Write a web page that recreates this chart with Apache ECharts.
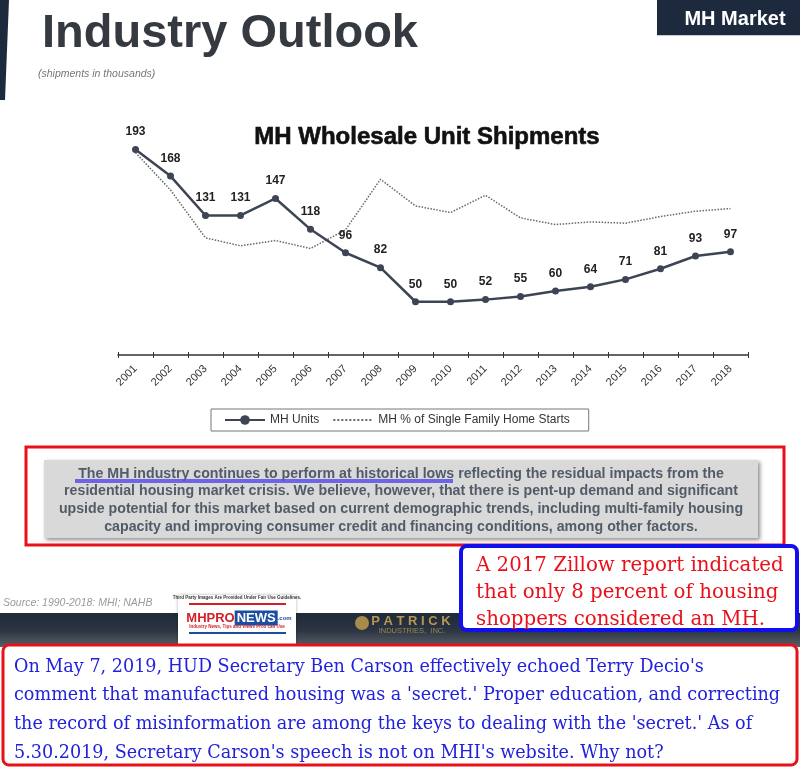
<!DOCTYPE html>
<html><head><meta charset="utf-8">
<script src="https://cdn.jsdelivr.net/npm/echarts@6/dist/echarts.min.js"></script>
<style>html,body{margin:0;padding:0;background:#fff}#c{width:800px;height:768px}</style>
</head><body><div id="c"></div>
<script>
const years = ['2001','2002','2003','2004','2005','2006','2007','2008','2009','2010','2011','2012','2013','2014','2015','2016','2017','2018'];
const mhUnits = [193,168,131,131,147,118,96,82,50,50,52,55,60,64,71,81,93,97];
const mhShareOfSF = [15.2,12.4,8.8,8.2,8.6,8.0,9.4,13.2,11.2,10.7,12.0,10.3,9.8,10.0,9.9,10.4,10.8,11.0];
const pageTitle = 'Industry Outlook';
const chartTitle = 'MH Wholesale Unit Shipments';
const paragraphLines = [
  'The MH industry continues to perform at historical lows reflecting the residual impacts from the',
  'residential housing market crisis. We believe, however, that there is pent-up demand and significant',
  'upside potential for this market based on current demographic trends, including multi-family housing',
  'capacity and improving consumer credit and financing conditions, among other factors.'
];
const zillowLines = [
  'A 2017 Zillow report indicated',
  'that only 8 percent of housing',
  'shoppers considered an MH.'
];
const carsonLines = [
  "On May 7, 2019, HUD Secretary Ben Carson effectively echoed Terry Decio's",
  "comment that manufactured housing was a 'secret.' Proper education, and correcting",
  "the record of misinformation are among the keys to dealing with the 'secret.' As of",
  "5.30.2019, Secretary Carson's speech is not on MHI's website. Why not?"
];

const SANS = '"Liberation Sans", Arial, sans-serif';
const chart = echarts.init(document.getElementById('c'));
chart.setOption({
  animation: false,
  backgroundColor: '#ffffff',
  title: {
    text: chartTitle, left: 422, top: 120, textAlign: 'center',
    textStyle: { fontFamily: SANS, fontSize: 24, fontWeight: 'bold', color: '#111', textBorderColor: '#111', textBorderWidth: 0.6 }
  },
  legend: {
    left: 211, top: 409, padding: [5, 19, 5, 13], itemGap: 13,
    itemWidth: 40, itemHeight: 12,
    borderColor: '#777', borderWidth: 1,
    textStyle: { fontFamily: SANS, fontSize: 12, color: '#333' },
    data: [
      { name: 'MH Units' },
      { name: 'MH % of Single Family Home Starts', itemStyle: { color: 'rgba(0,0,0,0)', borderWidth: 0 } }
    ]
  },
  grid: { left: 118, right: 52, top: 142, height: 213 },
  xAxis: [{
    type: 'category', data: years, boundaryGap: true,
    axisLine: { lineStyle: { color: '#333', width: 1.5 } },
    axisTick: { show: true, interval: 0, length: 3, lineStyle: { color: '#333' } },
    axisLabel: { interval: 0, rotate: 45, fontFamily: SANS, fontSize: 11, color: '#333', margin: 12 }
  }, {
    type: 'category', data: years, boundaryGap: true, position: 'bottom',
    axisLine: { show: false },
    axisTick: { show: true, inside: true, interval: 0, length: 3, lineStyle: { color: '#333' } },
    axisLabel: { show: false }
  }],
  yAxis: [
    { type: 'value', min: 0, max: 200, show: false, splitLine: { show: false } },
    { type: 'value', min: 0, max: 16, show: false, splitLine: { show: false } }
  ],
  series: [{
    name: 'MH % of Single Family Home Starts', type: 'line', yAxisIndex: 1,
    data: mhShareOfSF, symbol: 'none', showSymbol: false,
    lineStyle: { type: 'dotted', color: '#666', width: 1.5 },
    itemStyle: { color: '#666' }
  }, {
    name: 'MH Units', type: 'line', yAxisIndex: 0, z: 3,
    data: mhUnits, symbol: 'circle', symbolSize: 7,
    lineStyle: { color: '#3d4554', width: 2.5 },
    itemStyle: { color: '#3d4554' },
    label: { show: true, position: 'top', distance: 8, fontFamily: SANS, fontSize: 12, fontWeight: 'bold', color: '#222' }
  }],
  graphic: [
    { type: 'polygon', shape: { points: [[0,0],[9,0],[5,100],[0,100]] }, style: { fill: '#1d2a3e' } },
    { type: 'rect', shape: { x: 657, y: 0, width: 143, height: 35 }, style: { fill: '#1d2a3e' } },
    { type: 'line', shape: { x1: 657, y1: 35.5, x2: 800, y2: 35.5 }, style: { stroke: '#c8ccd2', lineWidth: 1 } },
    { type: 'text', x: 735, y: 19, style: { text: 'MH Market', font: 'bold 20px "Liberation Sans", Arial', fill: '#ffffff', textAlign: 'center', textVerticalAlign: 'middle' } },
    { type: 'text', x: 42, y: 34, style: { text: pageTitle, font: 'bold 47px "Liberation Sans", Arial', fill: '#343a40', textAlign: 'left', textVerticalAlign: 'middle' } },
    { type: 'text', x: 38, y: 74, style: { text: '(shipments in thousands)', font: 'italic 10.5px "Liberation Sans", Arial', fill: '#777', textVerticalAlign: 'middle' } },
    { type: 'rect', shape: { x: 26, y: 447, width: 758, height: 98 }, style: { fill: 'none', stroke: '#e8111a', lineWidth: 3 } },
    { type: 'rect', shape: { x: 44, y: 460, width: 714, height: 78 }, style: { fill: '#d9d9d9', shadowBlur: 4, shadowOffsetX: 2, shadowOffsetY: 2, shadowColor: 'rgba(0,0,0,0.45)' } },
    { type: 'text', x: 401, y: 465, style: { text: paragraphLines.join('\n'), font: 'bold 14.2px "Liberation Sans", Arial', lineHeight: 17.7, fill: '#525c68', textAlign: 'center', textVerticalAlign: 'top' } },
    { type: 'line', shape: { x1: 75, y1: 481, x2: 453, y2: 481 }, style: { stroke: '#5b4fe8', lineWidth: 4, opacity: 0.85 } },
    { type: 'text', x: 3, y: 603, style: { text: 'Source: 1990-2018: MHI; NAHB', font: 'italic 10.5px "Liberation Sans", Arial', fill: '#999', textVerticalAlign: 'middle' } },
    { type: 'rect', shape: { x: 0, y: 613, width: 800, height: 34 }, style: { fill: new echarts.graphic.LinearGradient(0,0,0,1,[{offset:0,color:'#1f2a3a'},{offset:0.5,color:'#2a3442'},{offset:1,color:'#5a5f66'}]) } },
    { type: 'rect', shape: { x: 178, y: 595, width: 118, height: 51 }, style: { fill: '#ffffff', shadowBlur: 3, shadowColor: 'rgba(0,0,0,0.3)' } },
    { type: 'text', x: 237, y: 598, style: { text: 'Third Party Images Are Provided Under Fair Use Guidelines.', font: 'bold 4.5px "Liberation Sans", Arial', fill: '#333', textAlign: 'center', textVerticalAlign: 'middle' } },
    { type: 'line', shape: { x1: 189, y1: 604, x2: 286, y2: 604 }, style: { stroke: '#d32027', lineWidth: 2 } },
    { type: 'text', x: 239, y: 618, style: { text: '{r|MHPRO}{b|NEWS}{s|.com}', textAlign: 'center', textVerticalAlign: 'middle',
        rich: { r: { font: 'bold 13px "Liberation Sans", Arial', fill: '#d32027' }, b: { font: 'bold 13px "Liberation Sans", Arial', fill: '#ffffff', backgroundColor: '#1b4ea0', padding: [1, 2] }, s: { font: 'bold 6px "Liberation Sans", Arial', fill: '#1b4ea0' } } } },
    { type: 'text', x: 237, y: 627, style: { text: 'Industry News, Tips and Views Pros can Use', font: 'bold 4.5px "Liberation Sans", Arial', fill: '#d32027', textAlign: 'center', textVerticalAlign: 'middle' } },
    { type: 'line', shape: { x1: 189, y1: 633, x2: 286, y2: 633 }, style: { stroke: '#1b4ea0', lineWidth: 2 } },
    { type: 'circle', shape: { cx: 362, cy: 623, r: 7 }, style: { fill: '#a88a4a' } },
    { type: 'text', x: 411, y: 621, style: { text: 'P A T R I C K', font: 'bold 13px "Liberation Sans", Arial', fill: '#b8964f', textAlign: 'center', textVerticalAlign: 'middle' } },
    { type: 'text', x: 412, y: 631, style: { text: 'INDUSTRIES,  INC.', font: '7.5px "Liberation Sans", Arial', fill: '#9c8650', textAlign: 'center', textVerticalAlign: 'middle' } },
    { type: 'rect', shape: { x: 461, y: 546, width: 336, height: 84, r: 6 }, style: { fill: '#ffffff', stroke: '#1010ee', lineWidth: 4 } },
    { type: 'text', x: 476, y: 552.5, style: { text: zillowLines.join('\n'), font: '19.8px "DejaVu Serif", serif', lineHeight: 27, fill: '#e8111a', textAlign: 'left', textVerticalAlign: 'top' } },
    { type: 'rect', shape: { x: 3, y: 645, width: 794, height: 120, r: 6 }, style: { fill: '#ffffff', stroke: '#e8111a', lineWidth: 3 } },
    { type: 'text', x: 14, y: 652.6, style: { text: carsonLines.join('\n'), font: '17.6px "DejaVu Serif", serif', lineHeight: 28.7, fill: '#2222dd', textAlign: 'left', textVerticalAlign: 'top' } }
  ]
});
</script></body></html>
